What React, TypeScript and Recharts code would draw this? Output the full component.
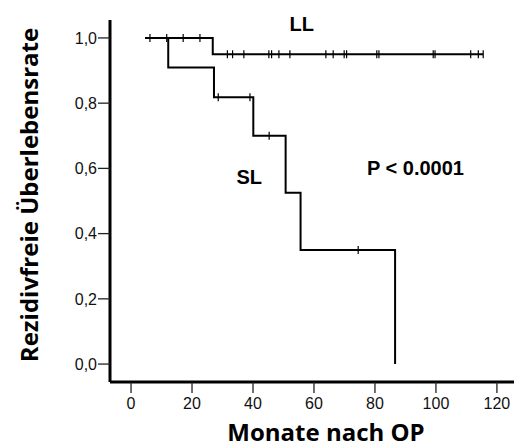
import React from 'react';
import { ComposedChart, Line, Scatter, XAxis, YAxis, Customized } from 'recharts';

const xTicks = [0, 20, 40, 60, 80, 100, 120];
const yTicks = [0, 0.2, 0.4, 0.6, 0.8, 1.0];

const llCurve = [
  { x: 4.6, y: 1.0 },
  { x: 26.8, y: 0.95 },
  { x: 115.5, y: 0.95 },
];
const slCurve = [
  { x: 4.6, y: 1.0 },
  { x: 12.2, y: 0.909 },
  { x: 27.2, y: 0.818 },
  { x: 40.1, y: 0.7 },
  { x: 50.7, y: 0.525 },
  { x: 55.6, y: 0.35 },
  { x: 86.6, y: 0.0 },
];
const llCensored = [
  { x: 6.2, y: 1.0 },
  { x: 11.7, y: 1.0 },
  { x: 17.1, y: 1.0 },
  { x: 22.6, y: 1.0 },
  { x: 31.6, y: 0.95 },
  { x: 33.3, y: 0.95 },
  { x: 37.0, y: 0.95 },
  { x: 45.2, y: 0.95 },
  { x: 46.1, y: 0.95 },
  { x: 48.5, y: 0.95 },
  { x: 52.1, y: 0.95 },
  { x: 63.9, y: 0.95 },
  { x: 66.3, y: 0.95 },
  { x: 69.9, y: 0.95 },
  { x: 70.7, y: 0.95 },
  { x: 80.6, y: 0.95 },
  { x: 81.3, y: 0.95 },
  { x: 99.1, y: 0.95 },
  { x: 99.7, y: 0.95 },
  { x: 111.4, y: 0.95 },
  { x: 113.9, y: 0.95 },
  { x: 115.5, y: 0.95 },
];
const slCensored = [
  { x: 28.6, y: 0.818 },
  { x: 39.0, y: 0.818 },
  { x: 45.3, y: 0.7 },
  { x: 74.5, y: 0.35 },
];

const tickStyle = { fontSize: 16, fontFamily: 'Liberation Sans, Arial, sans-serif', fill: '#111' };

const CensorMark = (props: any) => {
  const { cx, cy } = props;
  if (cx == null || cy == null) return null;
  return <line x1={cx} x2={cx} y1={cy - 4} y2={cy + 4} stroke="#000" strokeWidth={1.2} />;
};

const Annotations = () => (
  <g>
    <text x={301.7} y={30.5} textAnchor="middle" fontSize={20} fontWeight="bold" fontFamily="Liberation Sans, Arial, sans-serif" fill="#000">LL</text>
    <text x={249.3} y={184} textAnchor="middle" fontSize={20} fontWeight="bold" fontFamily="Liberation Sans, Arial, sans-serif" fill="#000">SL</text>
    <text x={367} y={175} textAnchor="start" fontSize={20} fontWeight="bold" fontFamily="Liberation Sans, Arial, sans-serif" fill="#000">P &lt; 0.0001</text>
    <text x={38} y={195} transform="rotate(-90, 38, 195)" textAnchor="middle" fontSize={24} fontWeight="bold" fontFamily="Open Sans, sans-serif" fill="#000">Rezidivfreie Überlebensrate</text>
    <text x={326} y={441} textAnchor="middle" fontSize={24} fontWeight="bold" fontFamily="Open Sans, sans-serif" fill="#000">Monate nach OP</text>
  </g>
);

export default function App() {
  return (
    <div style={{ position: 'absolute', left: 0, top: 0, width: 514, height: 448, background: '#fff' }}>
      <ComposedChart width={514} height={448} margin={{ top: 20, right: 0, bottom: 0, left: 0 }}>
        <XAxis
          dataKey="x"
          type="number"
          domain={[-6.9, 125.6]}
          ticks={xTicks}
          allowDataOverflow
          height={66}
          tick={tickStyle}
          tickSize={11}
          tickMargin={5}
          axisLine={{ stroke: '#000', strokeWidth: 3 }}
          tickLine={{ stroke: '#222', strokeWidth: 1.3 }}
        />
        <YAxis
          dataKey="y"
          type="number"
          domain={[-0.055, 1.055]}
          ticks={yTicks}
          allowDataOverflow
          width={110}
          tick={tickStyle}
          tickSize={12}
          tickMargin={1}
          tickFormatter={(v: number) => v.toFixed(1).replace('.', ',')}
          axisLine={{ stroke: '#000', strokeWidth: 3 }}
          tickLine={{ stroke: '#222', strokeWidth: 1.3 }}
        />
        <Line data={llCurve} dataKey="y" type="stepAfter" stroke="#000" strokeWidth={2} dot={false} isAnimationActive={false} />
        <Line data={slCurve} dataKey="y" type="stepAfter" stroke="#000" strokeWidth={2} dot={false} isAnimationActive={false} />
        <Scatter data={llCensored} dataKey="y" shape={<CensorMark />} isAnimationActive={false} />
        <Scatter data={slCensored} dataKey="y" shape={<CensorMark />} isAnimationActive={false} />
        <Customized component={Annotations} />
      </ComposedChart>
    </div>
  );
}
